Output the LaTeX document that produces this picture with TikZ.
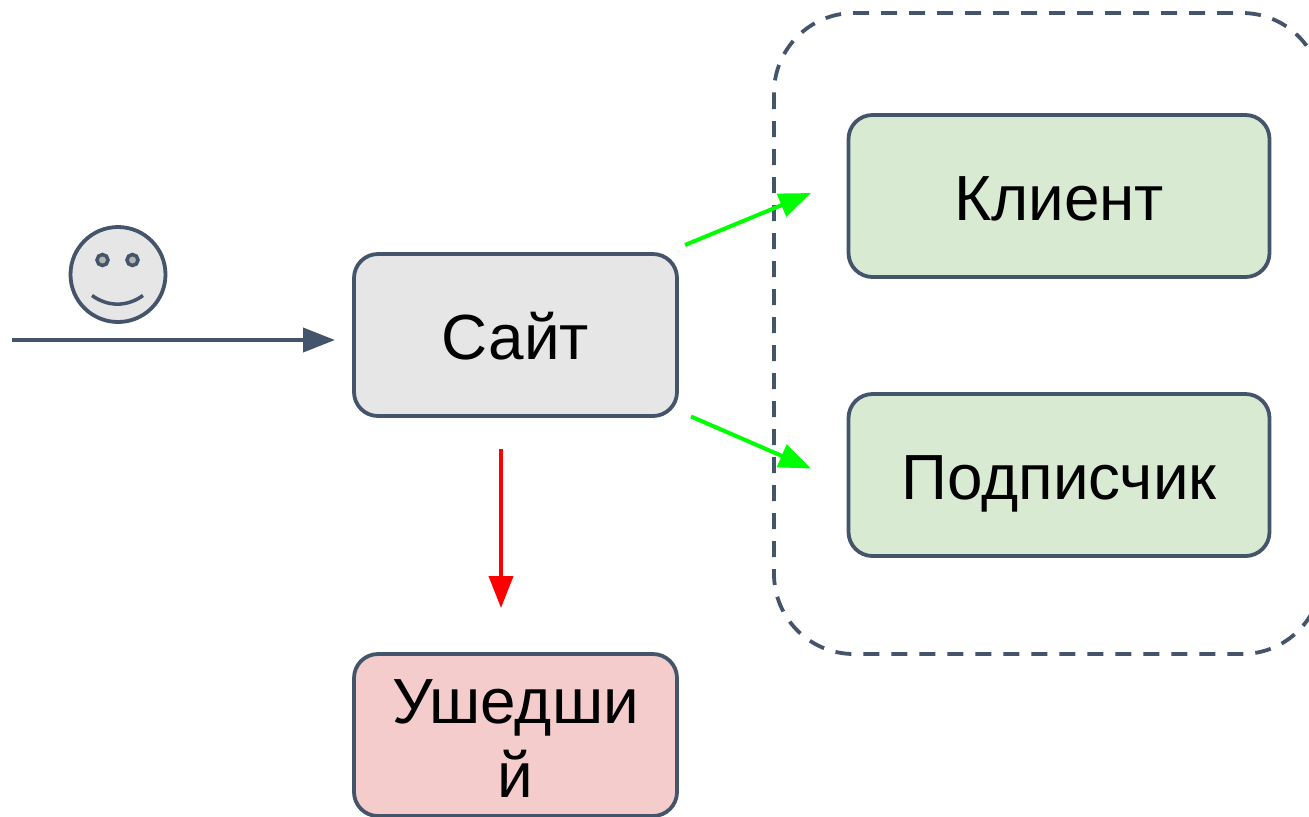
\documentclass[tikz,border=0pt]{standalone}
\usepackage{fontspec}
\setmainfont{Liberation Sans}
\usetikzlibrary{arrows.meta}
\definecolor{slate}{HTML}{44546A}
\definecolor{sitefill}{HTML}{E6E6E6}
\definecolor{goodfill}{HTML}{D9EAD3}
\definecolor{lostfill}{HTML}{F4CCCC}
\definecolor{eyefill}{HTML}{B3B3B3}
\tikzset{box/.style = {draw = slate, line width = 1.9pt, rounded corners = 12pt,
                       minimum height = 81pt, inner sep = 0, align = center,
                       text height = 24pt, text depth = 0pt,
                       font = \fontsize{31.9}{37}\selectfont}}
\tikzset{flow/.style = {line width = 2pt, -{Triangle[length = 16pt, width = 12pt]}}}

\begin{document}
\begin{tikzpicture}[x = 0.5pt, y = -0.5pt]
    \clip (0, 0) rectangle (1309, 816);
    \useasboundingbox (0, 0) rectangle (1309, 816);

    % group around the two outcomes
    \draw [draw = slate, line width = 1.9pt, dash pattern = on 8pt off 6pt, rounded corners = 40pt]
      (774, 13) rectangle (1322, 654);

    \node [box, fill = sitefill, minimum width = 161.5pt] (site) at (515.5, 335) {Сайт};
    \node [box, fill = goodfill, minimum width = 210.5pt] (client) at (1059, 196) {Клиент};
    \node [box, fill = goodfill, minimum width = 210.5pt] (subscriber) at (1059, 475) {Подписчик};
    \node [box, fill = lostfill, minimum width = 161.5pt, text height = 62pt] (gone) at (515.5, 735) {Ушедши\\й};

    % smiley
    \node [circle, draw = slate, fill = sitefill, line width = 1.9pt, minimum size = 47.5pt, inner sep = 0] (face) at (118, 274.5) {};
    \node [circle, draw = slate, fill = eyefill, line width = 1.75pt, minimum size = 5.5pt, inner sep = 0] (lefteye) at (102.5, 260) {};
    \node [circle, draw = slate, fill = eyefill, line width = 1.75pt, minimum size = 5.5pt, inner sep = 0] (righteye) at (132.5, 260) {};
    \draw [draw = slate, line width = 1.75pt] (92, 295.5) .. controls (108, 307) and (127, 307) .. (143, 295.5);

    \coordinate (enter) at (12, 340);
    \coordinate (enterend) at (335, 340);
    \coordinate (clientstart) at (685, 245);
    \coordinate (clientend) at (811, 193);
    \coordinate (substart) at (691, 416.5);
    \coordinate (subend) at (811, 468.5);
    \coordinate (gonestart) at (501, 449);
    \coordinate (goneend) at (501, 608);

    \draw [flow, draw = slate, fill = slate] (enter) -- (enterend);
    \draw [flow, draw = green, fill = green] (clientstart) -- (clientend);
    \draw [flow, draw = green, fill = green] (substart) -- (subend);
    \draw [flow, draw = red, fill = red] (gonestart) -- (goneend);
  \end{tikzpicture}
\end{document}
